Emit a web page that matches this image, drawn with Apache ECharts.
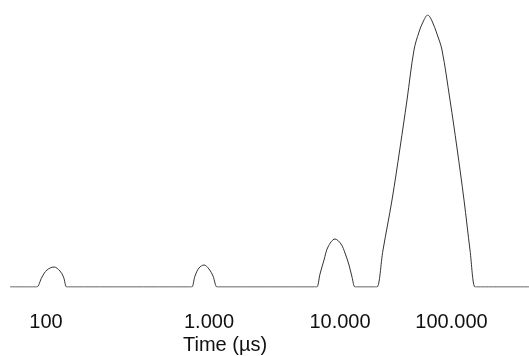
<!DOCTYPE html>
<html>
<head>
<meta charset="utf-8">
<script src="https://cdn.jsdelivr.net/npm/echarts@6/dist/echarts.min.js"></script>
<style>
  html, body { margin: 0; padding: 0; background: #fff; }
  #chart { width: 529px; height: 356px; }
</style>
</head>
<body>
<div id="chart"></div>
<script>
// x = position along the (non-uniform) time axis, y = signal height
const baseline = [[0, 0], [24, 0]];
const peak100 = [[26.7, 0], [32, 10], [37, 17], [44, 20], [50, 16], [53.5, 10], [56.7, 0], [59, 0]];
const gap1 = [[179, 0]];
const peak1000 = [[181.7, 0], [185, 11], [189, 19], [194, 22], [199, 18], [203, 11], [207, 0], [209, 0]];
const gap2 = [[304, 0]];
const peak10000 = [[306.7, 0], [310, 13], [314, 27], [318, 40], [325, 48], [331, 43], [335, 34], [339, 22], [342, 10], [345, 0], [347, 0]];
const gap3 = [[365, 0]];
const peak100000 = [[367, 0], [373, 37], [382, 87], [390, 139], [397, 187], [404, 237], [409, 255], [413, 265], [417.7, 272],
    [422, 266], [427, 253], [432, 237], [440, 187], [447, 139], [454, 87], [460, 37], [465, 0], [467, 0]];
const tail = [[519, 0]];

const tickPos = [36, 199, 330, 441.5];
const tickLabels = ['100', '1.000', '10.000', '100.000'];
const axisTitle = 'Time (µs)';

const chart = echarts.init(document.getElementById('chart'));

const options = {
    animation: false,
    backgroundColor: '#fff',
    title: {
        text: axisTitle,
        left: 183,
        top: 335,
        padding: 0,
        textStyle: {
            fontFamily: 'Liberation Sans',
            fontSize: 20,
            fontWeight: 'normal',
            color: '#111'
        }
    },
    grid: {
        left: 10,
        right: 0,
        top: 15,
        bottom: 69
    },
    xAxis: {
        type: 'value',
        min: 0,
        max: 519,
        splitLine: { show: false },
        axisLine: { show: false },
        axisTick: { show: false },
        axisLabel: {
            customValues: tickPos,
            margin: 25,
            fontFamily: 'Liberation Sans',
            fontSize: 20,
            color: '#111',
            formatter: (v) => {
                const i = tickPos.indexOf(v);
                return i >= 0 ? tickLabels[i] : '';
            }
        }
    },
    yAxis: {
        type: 'value',
        min: 0,
        max: 272,
        show: false
    },
    series: [{
        type: 'line',
        data: [...baseline, ...peak100, ...gap1, ...peak1000, ...gap2, ...peak10000, ...gap3, ...peak100000, ...tail],
        smooth: 0.35,
        showSymbol: false,
        lineStyle: { color: '#333', width: 1 }
    }]
};

chart.setOption(options);
</script>
</body>
</html>
